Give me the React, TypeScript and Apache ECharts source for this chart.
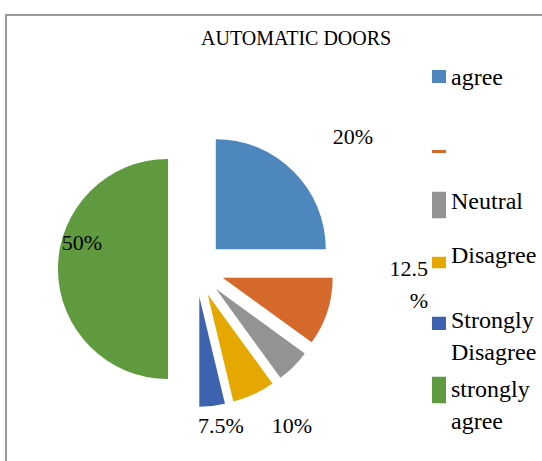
import React, { useEffect, useRef } from "react";
import * as echarts from "echarts";

// Survey responses on automatic doors (share of respondents, %)
const categories = ["agree", " ", "Neutral", "Disagree", "Strongly Disagree", "strongly agree"];
const shares = [25, 10, 5, 6.25, 3.75, 50];
const sliceLabels = ["20%", "12.5\n%", "", "10%", "7.5%", "50%"];
const legendTexts = ["agree", "", "Neutral", "Disagree", "Strongly\nDisagree", "strongly\nagree"];
const colors = ["#4D87BE", "#D4692B", "#939393", "#E5A800", "#3D63AE", "#5F9A3F"];

// anchor point and alignment of each slice's value text
const labelSpots: [number, number, "left" | "center" | "right"][] = [
  [353, 136, "center"],
  [428, 284, "right"],
  [0, 0, "center"],
  [292, 425, "center"],
  [221, 425, "center"],
  [82, 242, "center"],
];

// legend rows: top of row, key box height, key top / bottom inside the box
const legendRows: [number, number, number, number][] = [
  [61, 14, 0, 13],
  [150, 3, 0, 3],
  [184.1, 34.2, 7.6, 34.2],
  [239.2, 26.2, 14.6, 26.2],
  [303.9, 38.4, 0, 13.3],
  [372.6, 55.8, 0, 26.6],
];

// a key swatch placed inside a taller transparent box (degenerate edges keep the box size)
const keyIcon = (h: number, y1: number, y2: number) =>
  `path://M0 0L14 0L14 0Z M0 ${y1}L14 ${y1}L14 ${y2}L0 ${y2}Z M0 ${h}L14 ${h}L14 ${h}Z`;

const SERIF = "Liberation Serif, Times New Roman, serif";

export default function App() {
  const ref = useRef<HTMLDivElement>(null);

  useEffect(() => {
    if (!ref.current) return;
    const chart = echarts.init(ref.current, null, { renderer: "svg" });

    const legends = categories.map((name, i) => {
      const [top, h, y1, y2] = legendRows[i];
      return {
        data: [name],
        left: 432,
        top,
        padding: 0,
        orient: "vertical" as const,
        icon: keyIcon(h, y1, y2),
        itemWidth: 14,
        itemHeight: h,
        itemGap: 0,
        selectedMode: false,
        formatter: () => legendTexts[i],
        textStyle: {
          fontFamily: SERIF,
          fontSize: 24,
          color: "#000",
          lineHeight: 32,
        },
      };
    });

    const valueTexts = sliceLabels
      .map((text, i) => ({ text, spot: labelSpots[i] }))
      .filter((d) => d.text !== "")
      .map((d) => ({
        type: "text",
        x: d.spot[0],
        y: d.spot[1],
        z: 100,
        silent: true,
        style: {
          text: d.text,
          fontFamily: SERIF,
          fontSize: 22,
          lineHeight: 32,
          fill: "#000",
          align: d.spot[2],
          verticalAlign: "middle",
        },
      }));

    chart.setOption({
      animation: false,
      backgroundColor: "#fff",
      color: colors,
      title: {
        text: "AUTOMATIC DOORS",
        left: 201,
        top: 28,
        padding: 0,
        textStyle: {
          fontFamily: SERIF,
          fontSize: 20,
          fontWeight: "normal",
          color: "#000",
        },
      },
      legend: legends,
      graphic: [
        {
          type: "rect",
          shape: { x: 6, y: 15, width: 700, height: 600 },
          style: { fill: "none", stroke: "#9A9A9A", lineWidth: 2 },
          silent: true,
        },
        ...valueTexts,
      ],
      series: [
        {
          type: "pie",
          center: [196, 269],
          radius: 110,
          startAngle: 90,
          clockwise: true,
          selectedMode: "multiple",
          selectedOffset: 28,
          data: categories.map((name, i) => ({
            name,
            value: shares[i],
            selected: true,
          })),
          label: { show: false },
          labelLine: { show: false },
          emphasis: { disabled: true },
        },
      ],
    });

    return () => chart.dispose();
  }, []);

  return (
    <div
      ref={ref}
      style={{ position: "absolute", left: 0, top: 0, width: 542, height: 461 }}
    />
  );
}
